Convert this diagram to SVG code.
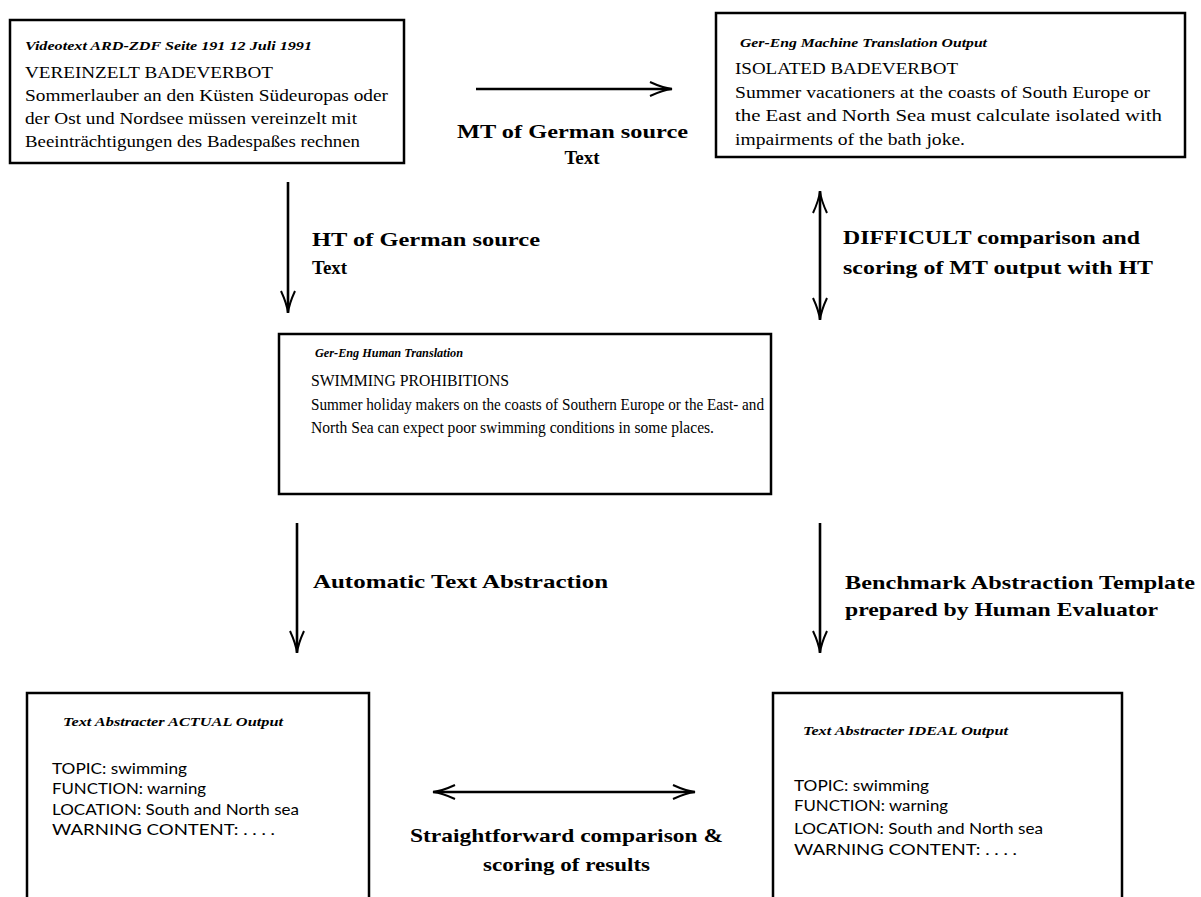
<svg xmlns="http://www.w3.org/2000/svg" width="1201" height="897" viewBox="0 0 1201 897">
<style>
.box{fill:#fff;stroke:#000;stroke-width:2.5}
.hdr{font-family:"Liberation Serif",serif;font-style:italic;font-weight:bold;font-size:12px;fill:#000}
.ttl{font-family:"Liberation Serif",serif;font-size:17px;fill:#000}
.body{font-family:"Liberation Serif",serif;font-size:16px;fill:#000}
.lbl{font-family:"Liberation Serif",serif;font-weight:bold;font-size:19px;fill:#000}
.sans{font-family:Lato,"Open Sans",sans-serif;font-size:16px;fill:#000}
.conn{stroke:#000;stroke-width:2.6;fill:none}
</style>
<defs>
<marker id="ah" markerUnits="userSpaceOnUse" markerWidth="26" markerHeight="20" viewBox="-24 -10 26 20" refX="0" refY="0" orient="auto-start-reverse">
<path d="M-22,-7 Q-9,-1 0,0 Q-9,1 -22,7" fill="none" stroke="#000" stroke-width="2"/>
</marker>
</defs>
<g id="connectors">
<line class="conn" x1="476" y1="89" x2="672" y2="89" marker-end="url(#ah)"/>
<line class="conn" x1="288" y1="182" x2="288" y2="313" marker-end="url(#ah)"/>
<line class="conn" x1="820" y1="191" x2="820" y2="320" marker-start="url(#ah)" marker-end="url(#ah)"/>
<line class="conn" x1="297" y1="523" x2="297" y2="653" marker-end="url(#ah)"/>
<line class="conn" x1="820" y1="523" x2="820" y2="653" marker-end="url(#ah)"/>
<line class="conn" x1="433" y1="792" x2="695" y2="792" marker-start="url(#ah)" marker-end="url(#ah)"/>
<text class="lbl" x="457" y="138" textLength="231" lengthAdjust="spacingAndGlyphs">MT of German source</text>
<text class="lbl" x="582" y="164" text-anchor="middle">Text</text>
<text class="lbl" x="312" y="246" textLength="228" lengthAdjust="spacingAndGlyphs">HT of German source</text>
<text class="lbl" x="312" y="274">Text</text>
<text class="lbl" x="843" y="244" textLength="297" lengthAdjust="spacingAndGlyphs">DIFFICULT comparison and</text>
<text class="lbl" x="843" y="274" textLength="310" lengthAdjust="spacingAndGlyphs">scoring of MT output with HT</text>
<text class="lbl" x="313" y="588" textLength="295" lengthAdjust="spacingAndGlyphs">Automatic Text Abstraction</text>
<text class="lbl" x="845" y="589" textLength="350" lengthAdjust="spacingAndGlyphs">Benchmark Abstraction Template</text>
<text class="lbl" x="845" y="616" textLength="313" lengthAdjust="spacingAndGlyphs">prepared by Human Evaluator</text>
<text class="lbl" x="410" y="842" textLength="313" lengthAdjust="spacingAndGlyphs">Straightforward comparison &amp;</text>
<text class="lbl" x="483" y="871" textLength="167" lengthAdjust="spacingAndGlyphs">scoring of results</text>
</g>
<g id="source">
<rect class="box" x="10" y="20" width="394" height="143"/>
<text class="hdr" x="25" y="50" textLength="287" lengthAdjust="spacingAndGlyphs">Videotext ARD-ZDF Seite 191 12 Juli 1991</text>
<text class="ttl" x="25" y="78" textLength="248" lengthAdjust="spacingAndGlyphs">VEREINZELT BADEVERBOT</text>
<text class="body" x="25" y="101" textLength="363" lengthAdjust="spacingAndGlyphs">Sommerlauber an den Küsten Südeuropas oder</text>
<text class="body" x="25" y="124" textLength="332" lengthAdjust="spacingAndGlyphs">der Ost und Nordsee müssen vereinzelt mit</text>
<text class="body" x="25" y="147" textLength="335" lengthAdjust="spacingAndGlyphs">Beeinträchtigungen des Badespaßes rechnen</text>
</g>
<g id="mt-output">
<rect class="box" x="716" y="13" width="469" height="144"/>
<text class="hdr" x="740" y="47" textLength="247" lengthAdjust="spacingAndGlyphs">Ger-Eng Machine Translation Output</text>
<text class="ttl" x="735" y="74" textLength="223" lengthAdjust="spacingAndGlyphs">ISOLATED BADEVERBOT</text>
<text class="body" x="735" y="98" textLength="415" lengthAdjust="spacingAndGlyphs">Summer vacationers at the coasts of South Europe or</text>
<text class="body" x="735" y="121" textLength="427" lengthAdjust="spacingAndGlyphs">the East and North Sea must calculate isolated with</text>
<text class="body" x="735" y="145" textLength="230" lengthAdjust="spacingAndGlyphs">impairments of the bath joke.</text>
</g>
<g id="human-translation">
<rect class="box" x="279" y="334" width="492" height="160"/>
<text class="hdr" x="315" y="357" textLength="148" lengthAdjust="spacingAndGlyphs">Ger-Eng Human Translation</text>
<text class="ttl" x="311" y="386" textLength="198" lengthAdjust="spacingAndGlyphs">SWIMMING PROHIBITIONS</text>
<text class="body" x="311" y="410" textLength="453" lengthAdjust="spacingAndGlyphs">Summer holiday makers on the coasts of Southern Europe or the East- and</text>
<text class="body" x="311" y="433" textLength="403" lengthAdjust="spacingAndGlyphs">North Sea can expect poor swimming conditions in some places.</text>
</g>
<g id="actual-output">
<rect class="box" x="27" y="693" width="342" height="215"/>
<text class="hdr" x="63" y="726" textLength="220" lengthAdjust="spacingAndGlyphs">Text Abstracter ACTUAL Output</text>
<text class="sans" x="52" y="774" textLength="135" lengthAdjust="spacingAndGlyphs">TOPIC: swimming</text>
<text class="sans" x="52" y="794" textLength="154" lengthAdjust="spacingAndGlyphs">FUNCTION: warning</text>
<text class="sans" x="52" y="815" textLength="247" lengthAdjust="spacingAndGlyphs">LOCATION: South and North sea</text>
<text class="sans" x="52" y="835" textLength="223" lengthAdjust="spacingAndGlyphs">WARNING CONTENT: . . . .</text>
</g>
<g id="ideal-output">
<rect class="box" x="773" y="693" width="349" height="215"/>
<text class="hdr" x="803" y="735" textLength="205" lengthAdjust="spacingAndGlyphs">Text Abstracter IDEAL Output</text>
<text class="sans" x="794" y="791" textLength="135" lengthAdjust="spacingAndGlyphs">TOPIC: swimming</text>
<text class="sans" x="794" y="811" textLength="154" lengthAdjust="spacingAndGlyphs">FUNCTION: warning</text>
<text class="sans" x="794" y="834" textLength="249" lengthAdjust="spacingAndGlyphs">LOCATION: South and North sea</text>
<text class="sans" x="794" y="855" textLength="223" lengthAdjust="spacingAndGlyphs">WARNING CONTENT: . . . .</text>
</g>
</svg>
